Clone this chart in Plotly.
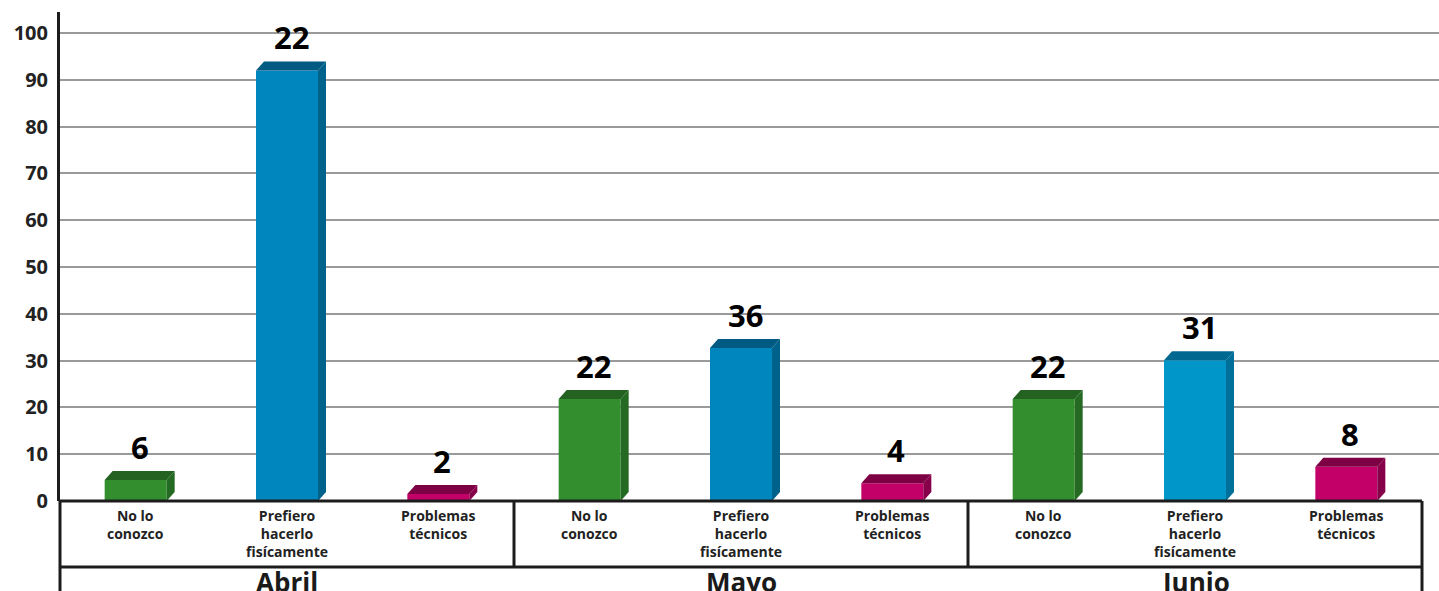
import plotly.graph_objects as go

# ---------------- data ----------------
groups = ["Abril", "Mayo", "Junio"]
categories = ["No lo conozco", "Prefiero hacerlo fisícamente", "Problemas técnicos"]
category_text = ["No lo<br>conozco", "Prefiero<br>hacerlo<br>fisícamente", "Problemas<br>técnicos"]
# bar heights, per category across groups
no_lo_conozco = [4.5, 21.8, 21.8]
prefiero_fisicamente = [92.0, 32.7, 30.1]
problemas_tecnicos = [1.5, 3.8, 7.3]
# printed labels above bars (as shown in the picture)
labels_no_lo = ["6", "22", "22"]
labels_prefiero = ["22", "36", "31"]
labels_problemas = ["2", "4", "8"]
y_ticks = [0, 10, 20, 30, 40, 50, 60, 70, 80, 90, 100]

series_values = [no_lo_conozco, prefiero_fisicamente, problemas_tecnicos]
series_labels = [labels_no_lo, labels_prefiero, labels_problemas]

# ---------------- style ----------------
front_colors = [
    ["#338f2e", "#338f2e", "#338f2e"],
    ["#0086be", "#0086be", "#0096c9"],
    ["#c20068", "#c20068", "#c20068"],
]
side_colors = [
    ["#246a22", "#246a22", "#246a22"],
    ["#00618b", "#00618b", "#006f99"],
    ["#87004a", "#87004a", "#87004a"],
]
top_colors = [
    ["#236221", "#236221", "#236221"],
    ["#005a82", "#005a82", "#006790"],
    ["#7e0044", "#7e0044", "#7e0044"],
]
FONT = "Open Sans"
W, H = 1439, 591
ML, MR, MT, MB = 60, 0, 12, 90
n_slots = len(groups) * len(categories)
slot_px = 1362 / n_slots
xmin = -0.5
xmax = n_slots - 0.5 + 17 / slot_px
ymax = 104.5
bar_w = 62 / slot_px
dx = 8 / slot_px
plot_h = H - MT - MB
dy = 9 * ymax / plot_h


def xpaper(v):
    return (v - xmin) / (xmax - xmin)


fig = go.Figure()
annotations = []

for ci, cat in enumerate(categories):
    xs = [gi * len(categories) + ci for gi in range(len(groups))]
    vals = series_values[ci]
    fig.add_trace(go.Bar(
        x=xs, y=vals, width=bar_w, name=cat,
        marker=dict(color=front_colors[ci], line=dict(width=0)),
        hoverinfo="skip", showlegend=False,
    ))
    for k, (xc, v) in enumerate(zip(xs, vals)):
        l, r = xc - bar_w / 2, xc + bar_w / 2
        # side face
        fig.add_trace(go.Scatter(
            x=[r, r + dx, r + dx, r, r], y=[0, dy, v + dy, v, 0],
            fill="toself", fillcolor=side_colors[ci][k], mode="lines",
            line=dict(width=0), hoverinfo="skip", showlegend=False,
        ))
        # top face
        fig.add_trace(go.Scatter(
            x=[l, l + dx, r + dx, r, l], y=[v, v + dy, v + dy, v, v],
            fill="toself", fillcolor=top_colors[ci][k], mode="lines",
            line=dict(width=0), hoverinfo="skip", showlegend=False,
        ))
        annotations.append(dict(
            x=xc + dx / 2, y=v, xref="x", yref="y", text=series_labels[ci][k],
            showarrow=False, yanchor="middle", yshift=33,
            font=dict(family=FONT, size=31, color="#000000", weight="bold"),
        ))
    # category labels
    for gi in range(len(groups)):
        annotations.append(dict(
            x=gi * len(categories) + ci, y=0, xref="x", yref="paper",
            text=category_text[ci], showarrow=False, yanchor="top", yshift=-3,
            font=dict(family=FONT, size=14, color="#222222", weight="bold"),
        ))

for gi, g in enumerate(groups):
    annotations.append(dict(
        x=gi * len(categories) + 1, y=0, xref="x", yref="paper", text=g,
        showarrow=False, yanchor="top", yshift=-61,
        font=dict(family=FONT, size=26, color="#1a1a1a", weight="bold"),
    ))

# frame of the category table
line_col = "#1c1c1c"
row1 = -66 / plot_h
bottom = -0.4
shapes = [
    dict(type="line", xref="paper", yref="paper", x0=0, x1=xpaper(n_slots - 0.5), y0=0, y1=0,
         line=dict(color=line_col, width=3)),
    dict(type="line", xref="paper", yref="paper", x0=0, x1=xpaper(n_slots - 0.5), y0=row1, y1=row1,
         line=dict(color=line_col, width=3)),
    dict(type="line", xref="paper", yref="paper", x0=0, x1=0, y0=0, y1=bottom,
         line=dict(color=line_col, width=3)),
    dict(type="line", xref="paper", yref="paper", x0=xpaper(n_slots - 0.5), x1=xpaper(n_slots - 0.5),
         y0=0, y1=bottom, line=dict(color=line_col, width=3)),
]
for gi in range(1, len(groups)):
    xb = xpaper(gi * len(categories) - 0.5)
    shapes.append(dict(type="line", xref="paper", yref="paper", x0=xb, x1=xb, y0=0, y1=row1,
                       line=dict(color=line_col, width=3)))

fig.update_layout(
    width=W, height=H,
    margin=dict(l=ML, r=MR, t=MT, b=MB),
    paper_bgcolor="white", plot_bgcolor="white",
    barmode="overlay",
    xaxis=dict(range=[xmin, xmax], showticklabels=False, showgrid=False, zeroline=False,
               showline=False, fixedrange=True),
    yaxis=dict(range=[0, ymax], tickvals=y_ticks, showgrid=True, gridcolor="#9a9a9a",
               gridwidth=1.5, zeroline=False, showline=True, linecolor=line_col, linewidth=3,
               ticks="outside", ticklen=5, tickcolor="rgba(0,0,0,0)", automargin=False,
               tickfont=dict(family=FONT, size=20, color="#222222", weight="bold")),
    annotations=annotations,
    shapes=shapes,
)

fig.write_html(
    "out.html",
    config={"displayModeBar": False},
    post_script="document.body.style.margin='0';document.body.style.overflow='hidden';",
)
